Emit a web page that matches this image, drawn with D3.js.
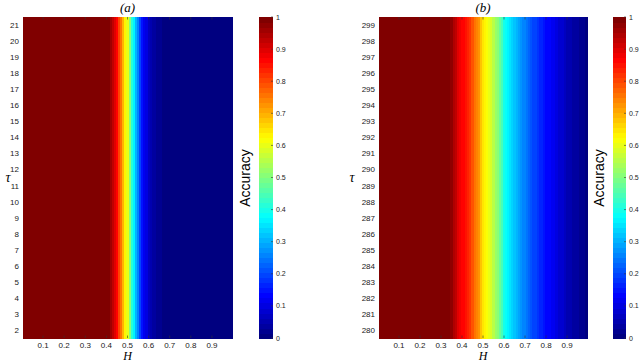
<!DOCTYPE html>
<html>
<head>
<meta charset="utf-8">
<script src="https://cdn.jsdelivr.net/npm/d3@7"></script>
<style>
  body { margin: 0; background: #fff; }
  svg text { font-family: "Liberation Sans", Helvetica, Arial, sans-serif; }
</style>
</head>
<body>
<div id="dataviz"></div>
<script>
// H values (columns) and tau values (rows)
var hVals = d3.range(1, 100).map(function(i) { return i / 100; });
var tauA = d3.range(2, 22);
var tauB = d3.range(280, 300);

// accuracy per H column, panel (a)
var accA = [
  1,1,1,1,1,1,1,1,1,1, 1,1,1,1,1,1,1,1,1,1,
  1,1,1,1,1,1,1,1,1,1, 1,1,1,1,1,1,1,1,1,1, 1,
  0.96,0.93,0.90,0.87,0.80,0.75,0.70,0.64,0.60,0.50,
  0.42,0.36,0.30,0.25,0.20,0.15,0.12,0.10,0.07,0.05,
  0.04,0.035,0.03,0.025,0.02,
  0.015,0.015,0.015,0.015,0.015,0.015,0.015,0.015,0.015,0.015,0.015,
  0.015,0.015,0.015,0.015,0.015,0.015,0.015,0.015,0.015,0.015,0.015,
  0.015,0.015,0.015,0.015,0.015,0.015,0.015,0.015,0.015,0.015,0.015
];

// accuracy per H column, panel (b)
var accB = [
  1,1,1,1,1,1,1,1,1,1, 1,1,1,1,1,1,1,1,1,1,
  1,1,1,1,1,1,1,1,1,1, 1,1,1,1,
  0.97,0.94,0.93,0.90,0.88,0.87,0.86,0.85,0.84,0.82,
  0.79,0.76,0.74,0.72,0.68,0.65,0.63,0.62,0.60,0.58,
  0.55,0.52,0.50,0.47,0.44,0.40,0.38,0.36,0.35,0.34,
  0.32,0.31,0.29,0.27,0.26,0.25,0.24,0.22,0.21,0.20,
  0.19,0.18,0.17,0.16,0.15,0.14,0.13,0.125,0.12,0.11,
  0.10,0.09,0.085,0.08,0.07,0.06,0.055,0.05,0.045,0.04,
  0.035,0.03,0.025,0.02,0.015
];

var xTicks = [0.1,0.2,0.3,0.4,0.5,0.6,0.7,0.8,0.9];
var cbTicks = [0,0.1,0.2,0.3,0.4,0.5,0.6,0.7,0.8,0.9,1];

// MATLAB jet, 64 levels
function jet(v) {
  var idx = Math.min(63, Math.max(0, Math.floor(v * 64)));
  var t = idx / 63;
  var c = function(x) { return Math.max(0, Math.min(1, x)); };
  var r = c(1.5 - Math.abs(4 * t - 3)),
      g = c(1.5 - Math.abs(4 * t - 2)),
      b = c(1.5 - Math.abs(4 * t - 1));
  return d3.rgb(r * 255, g * 255, b * 255).toString();
}

var svg = d3.select("#dataviz")
  .append("svg")
  .attr("width", 640)
  .attr("height", 363);

var panels = [
  {title: "(a)", tau: tauA, acc: accA, left: 23, right: 232, cbX: 259, cbW: 14, tauX: 8},
  {title: "(b)", tau: tauB, acc: accB, left: 379, right: 587, cbX: 613, cbW: 13, tauX: 352}
];
var plotTop = 17, plotBottom = 338;

panels.forEach(function(p) {
  var g = svg.append("g");

  var x = d3.scaleLinear().domain([0.005, 0.995]).range([p.left, p.right]);
  var y = d3.scaleBand().domain(p.tau.slice().reverse()).range([plotTop, plotBottom]).padding(0);

  var cells = [];
  p.tau.forEach(function(t) {
    hVals.forEach(function(h, i) {
      cells.push({tau: t, h: h, v: p.acc[i]});
    });
  });

  g.append("g")
    .attr("shape-rendering", "crispEdges")
    .selectAll("rect")
    .data(cells)
    .join("rect")
    .attr("x", function(d) { return x(d.h - 0.005); })
    .attr("y", function(d) { return y(d.tau); })
    .attr("width", function(d) { return x(d.h + 0.005) - x(d.h - 0.005) + 0.6; })
    .attr("height", y.bandwidth() + 0.6)
    .attr("fill", function(d) { return jet(d.v); });

  // inward ticks
  xTicks.forEach(function(t) {
    g.append("line").attr("x1", x(t)).attr("x2", x(t)).attr("y1", plotTop).attr("y2", plotTop + 2.5)
      .attr("stroke", "#333").attr("stroke-width", 0.6);
    g.append("line").attr("x1", x(t)).attr("x2", x(t)).attr("y1", plotBottom).attr("y2", plotBottom - 2.5)
      .attr("stroke", "#333").attr("stroke-width", 0.6);
  });

  // x tick labels
  g.selectAll("text.xt")
    .data(xTicks)
    .join("text")
    .attr("class", "xt")
    .attr("x", function(d) { return x(d); })
    .attr("y", 348)
    .attr("text-anchor", "middle")
    .attr("font-size", 8)
    .attr("fill", "#222")
    .text(function(d) { return d3.format(".1f")(d); });

  // y tick labels
  g.selectAll("text.yt")
    .data(p.tau)
    .join("text")
    .attr("class", "yt")
    .attr("x", p.left - 4)
    .attr("y", function(d) { return y(d) + y.bandwidth() / 2 + 3; })
    .attr("text-anchor", "end")
    .attr("font-size", 8)
    .attr("fill", "#222")
    .text(function(d) { return d; });

  // title
  g.append("text")
    .attr("x", (p.left + p.right) / 2)
    .attr("y", 12)
    .attr("text-anchor", "middle")
    .attr("font-size", 13)
    .style("font-family", "'Liberation Serif', 'DejaVu Serif', serif")
    .style("font-style", "italic")
    .text(p.title);

  // H label
  g.append("text")
    .attr("x", (p.left + p.right) / 2)
    .attr("y", 360)
    .attr("text-anchor", "middle")
    .attr("font-size", 12)
    .style("font-family", "'Liberation Serif', 'DejaVu Serif', serif")
    .style("font-style", "italic")
    .text("H");

  // tau label
  g.append("text")
    .attr("x", p.tauX)
    .attr("y", 182)
    .attr("text-anchor", "middle")
    .attr("font-size", 14)
    .style("font-family", "'Liberation Serif', 'DejaVu Serif', serif")
    .style("font-style", "italic")
    .text("τ");

  // colorbar
  var cy = d3.scaleLinear().domain([0, 1]).range([plotBottom, plotTop]);
  var levels = d3.range(64);
  g.append("g")
    .attr("shape-rendering", "crispEdges")
    .selectAll("rect")
    .data(levels)
    .join("rect")
    .attr("x", p.cbX)
    .attr("y", function(d) { return cy((d + 1) / 64); })
    .attr("width", p.cbW)
    .attr("height", function(d) { return cy(d / 64) - cy((d + 1) / 64) + 0.6; })
    .attr("fill", function(d) { return jet((d + 0.5) / 64); });

  cbTicks.forEach(function(t) {
    g.append("line").attr("x1", p.cbX + p.cbW - 2).attr("x2", p.cbX + p.cbW)
      .attr("y1", cy(t)).attr("y2", cy(t))
      .attr("stroke", "#333").attr("stroke-width", 0.6);
  });

  g.selectAll("text.ct")
    .data(cbTicks)
    .join("text")
    .attr("class", "ct")
    .attr("x", p.cbX + p.cbW + 3)
    .attr("y", function(d) { return cy(d) + 2.5; })
    .attr("font-size", 7)
    .attr("fill", "#222")
    .text(function(d) { return d === 0 || d === 1 ? d : d3.format(".1f")(d); });

  g.append("text")
    .attr("transform", "translate(" + (p.cbX - 9) + ",178) rotate(-90)")
    .attr("text-anchor", "middle")
    .attr("font-size", 14)
    .text("Accuracy");
});
</script>
</body>
</html>
